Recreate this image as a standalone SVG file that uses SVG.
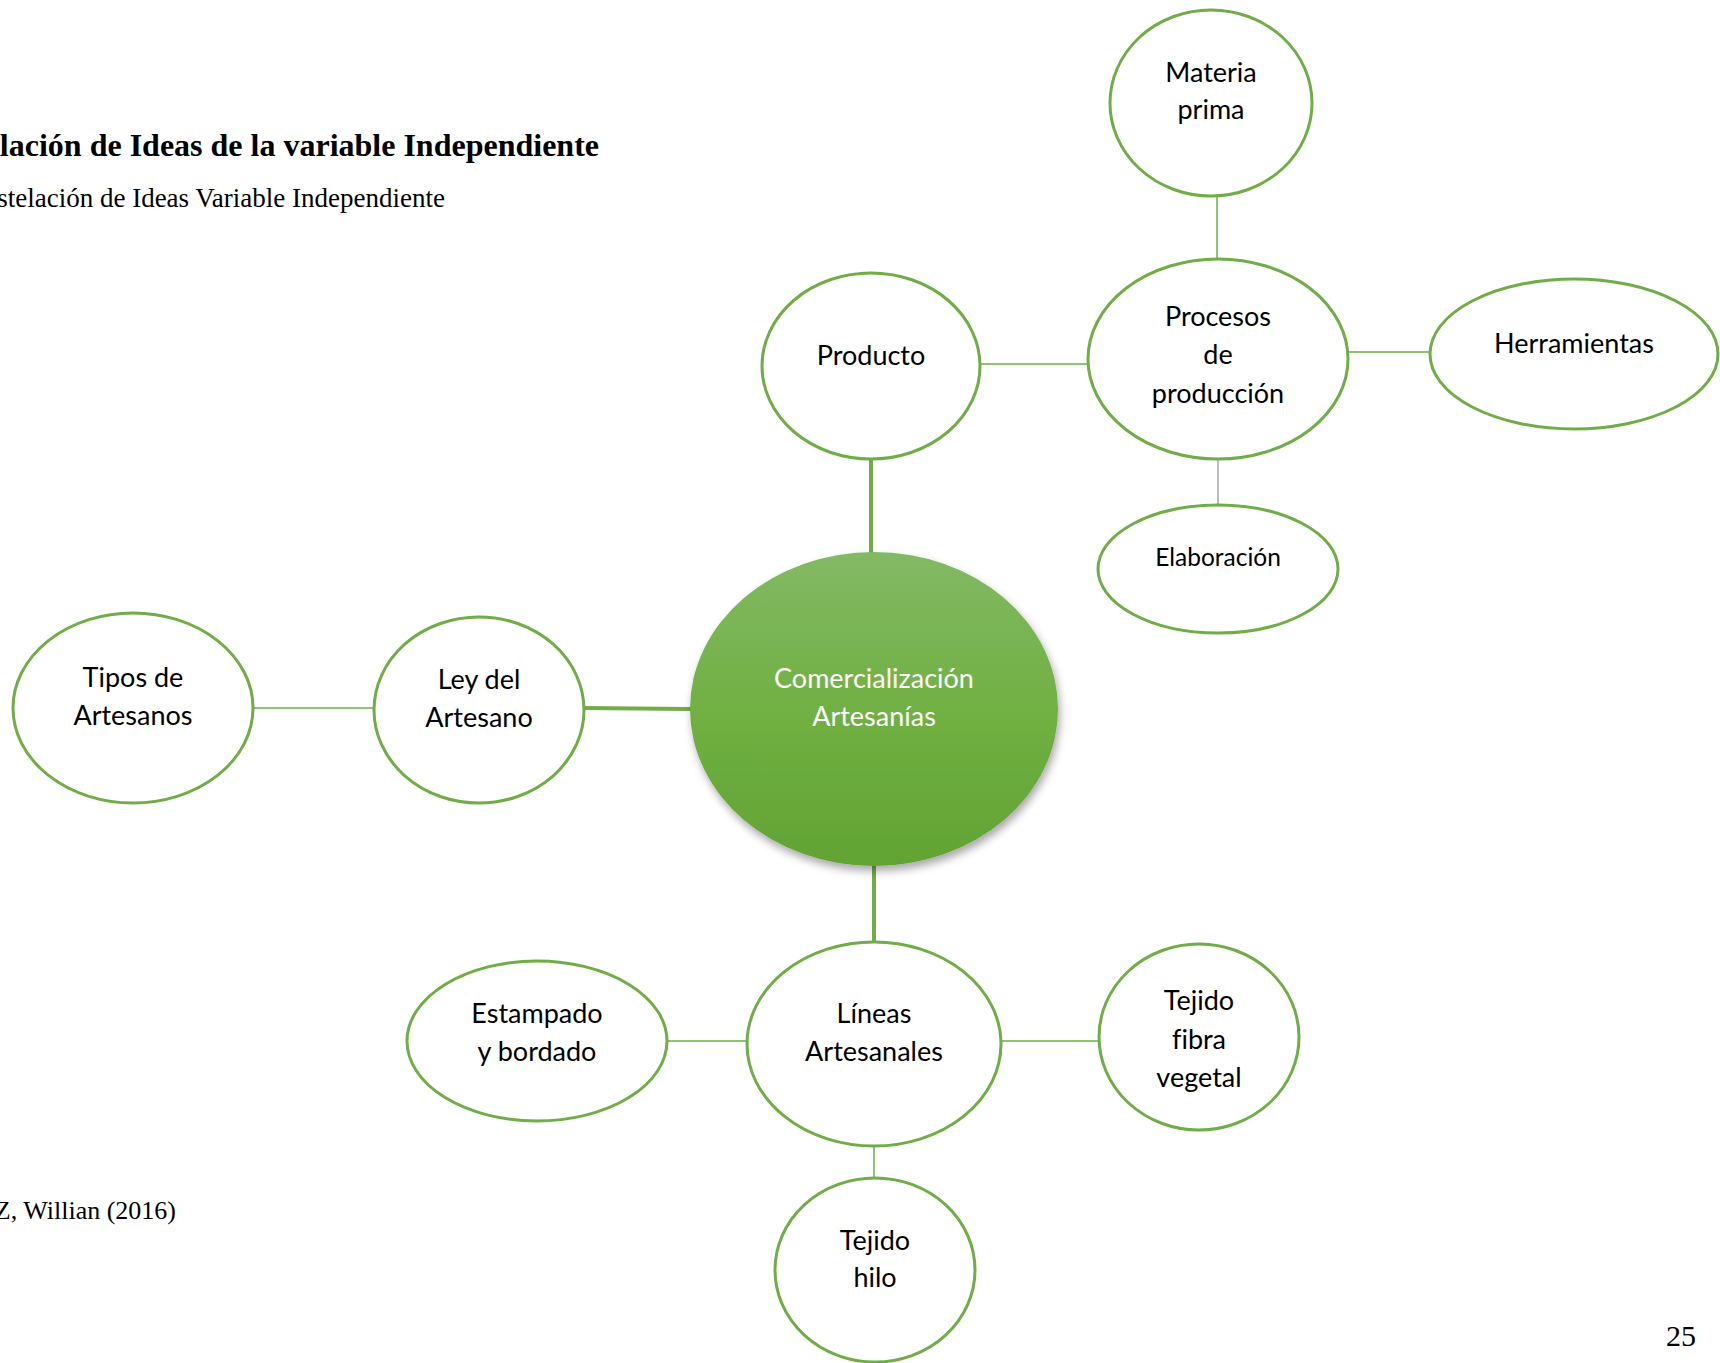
<svg xmlns="http://www.w3.org/2000/svg" width="1720" height="1363" viewBox="0 0 1720 1363">
<style>
.node{fill:#ffffff;stroke:#70ad47;stroke-width:3}
.lbl{font-family:Lato,"Noto Sans",sans-serif;font-size:27px;fill:#000000;text-anchor:middle}
.sm{font-size:24.5px}
.wlbl{font-family:Lato,"Noto Sans",sans-serif;font-size:27px;fill:#ffffff;text-anchor:middle}
.thin{stroke:#8cc474;stroke-width:2;fill:none}
.thick{stroke:#70ad47;stroke-width:4;fill:none}
.grey{stroke:#a6a6a6;stroke-width:1.5;fill:none}
.serif{font-family:"Liberation Serif","Times New Roman",serif;fill:#000000}
</style>
<defs>
<linearGradient id="cg" x1="0" y1="0" x2="0" y2="1">
<stop offset="0" stop-color="#83b965"/>
<stop offset="0.5" stop-color="#71b043"/>
<stop offset="1" stop-color="#62a334"/>
</linearGradient>
<filter id="sh" x="-20%" y="-20%" width="140%" height="140%">
<feDropShadow dx="2" dy="5" stdDeviation="4" flood-color="#000000" flood-opacity="0.35"/>
</filter>
</defs>
<rect width="1720" height="1363" fill="#ffffff"/>
<text class="serif" x="599" y="156" font-size="32" font-weight="bold" text-anchor="end">lación de Ideas de la variable Independiente</text>
<text class="serif" x="445" y="207" font-size="27" text-anchor="end">stelación de Ideas Variable Independiente</text>
<text class="serif" x="176" y="1219" font-size="26" text-anchor="end">Z, Willian (2016)</text>
<text class="serif" x="1696" y="1346" font-size="30" text-anchor="end">25</text>
<g id="connectors">
<line class="thin" x1="1217" y1="196" x2="1217" y2="259"/>
<line class="thin" x1="980" y1="364" x2="1087" y2="364"/>
<line class="thin" x1="1348" y1="352" x2="1429" y2="352"/>
<line class="grey" x1="1218" y1="459" x2="1218" y2="504"/>
<line class="thick" x1="871" y1="459" x2="871" y2="553"/>
<line class="thin" x1="253" y1="708" x2="374" y2="708"/>
<line class="thick" x1="585" y1="708" x2="691" y2="709"/>
<line class="thick" x1="874" y1="866" x2="874" y2="942"/>
<line class="thin" x1="667" y1="1041" x2="747" y2="1041"/>
<line class="thin" x1="1002" y1="1041" x2="1099" y2="1041"/>
<line class="thin" x1="874" y1="1146" x2="874" y2="1179"/>
</g>
<g id="materia-prima">
<ellipse class="node" cx="1211" cy="103" rx="101" ry="93"/>
<text class="lbl" x="1211" y="82">Materia</text>
<text class="lbl" x="1211" y="119">prima</text>
</g>
<g id="procesos">
<ellipse class="node" cx="1218" cy="359" rx="130" ry="100"/>
<text class="lbl" x="1218" y="326">Procesos</text>
<text class="lbl" x="1218" y="364">de</text>
<text class="lbl" x="1218" y="403">producción</text>
</g>
<g id="herramientas">
<ellipse class="node" cx="1574" cy="354" rx="144" ry="75"/>
<text class="lbl" x="1574" y="353">Herramientas</text>
</g>
<g id="producto">
<ellipse class="node" cx="871" cy="366" rx="109" ry="93"/>
<text class="lbl" x="871" y="365">Producto</text>
</g>
<g id="elaboracion">
<ellipse class="node" cx="1218" cy="569" rx="120" ry="64"/>
<text class="lbl sm" x="1218" y="566">Elaboración</text>
</g>
<g id="comercializacion">
<ellipse cx="874" cy="709" rx="184" ry="157" fill="url(#cg)" filter="url(#sh)"/>
<text class="wlbl" x="874" y="688">Comercialización</text>
<text class="wlbl" x="874" y="726">Artesanías</text>
</g>
<g id="tipos-artesanos">
<ellipse class="node" cx="133" cy="708" rx="120" ry="95"/>
<text class="lbl" x="133" y="687">Tipos de</text>
<text class="lbl" x="133" y="725">Artesanos</text>
</g>
<g id="ley-artesano">
<ellipse class="node" cx="479" cy="710" rx="105" ry="93"/>
<text class="lbl" x="479" y="689">Ley del</text>
<text class="lbl" x="479" y="727">Artesano</text>
</g>
<g id="lineas-artesanales">
<ellipse class="node" cx="874" cy="1044" rx="127" ry="102"/>
<text class="lbl" x="874" y="1023">Líneas</text>
<text class="lbl" x="874" y="1061">Artesanales</text>
</g>
<g id="estampado">
<ellipse class="node" cx="537" cy="1041" rx="130" ry="80"/>
<text class="lbl" x="537" y="1023">Estampado</text>
<text class="lbl" x="537" y="1061">y bordado</text>
</g>
<g id="tejido-fibra">
<ellipse class="node" cx="1199" cy="1037" rx="100" ry="93"/>
<text class="lbl" x="1199" y="1010">Tejido</text>
<text class="lbl" x="1199" y="1049" style="font-variant-ligatures:none">fibra</text>
<text class="lbl" x="1199" y="1087">vegetal</text>
</g>
<g id="tejido-hilo">
<ellipse class="node" cx="875" cy="1270" rx="100" ry="92"/>
<text class="lbl" x="875" y="1250">Tejido</text>
<text class="lbl" x="875" y="1287">hilo</text>
</g>
</svg>
